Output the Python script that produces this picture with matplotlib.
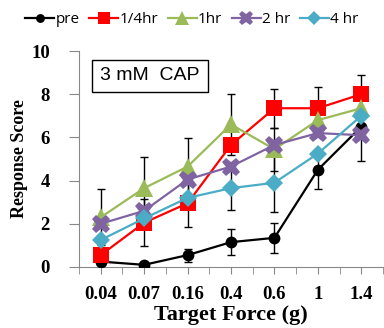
import matplotlib
matplotlib.use("Agg")
import matplotlib.pyplot as plt
import numpy as np
from matplotlib.ticker import FixedLocator

categories = ["0.04", "0.07", "0.16", "0.4", "0.6", "1", "1.4"]
series_names = ["pre", "1/4hr", "1hr", "2 hr", "4 hr"]
pre = [0.25, 0.1, 0.55, 1.15, 1.35, 4.5, 6.5]
q_hr = [0.55, 2.05, 2.95, 5.65, 7.35, 7.35, 8.0]
one_hr = [2.3, 3.65, 4.65, 6.6, 5.45, 6.8, 7.35]
two_hr = [2.0, 2.6, 4.05, 4.65, 5.65, 6.2, 6.1]
four_hr = [1.25, 2.25, 3.2, 3.65, 3.9, 5.25, 7.0]
pre_err = [0.1, 0.1, 0.3, 0.6, 0.7, 0.9, 0.0]
q_err = [0.0, 1.1, 1.1, 0.0, 0.9, 1.0, 0.9]
one_err = [1.3, 1.45, 1.3, 1.4, 1.0, 0.0, 0.0]
two_err = [0.0, 0.0, 0.0, 0.0, 0.0, 0.0, 1.2]
four_err = [0.0, 0.0, 0.0, 1.0, 1.35, 0.0, 0.0]

fig = plt.figure(figsize=(3.84, 3.28), dpi=100)
ax = fig.add_axes([0.2057, 0.186, 0.7917, 0.6585])

x = np.arange(len(categories))
styles = [
    (pre, pre_err, "#000000", "o", 8.5),
    (q_hr, q_err, "#FF0000", "s", 11.5),
    (one_hr, one_err, "#9BBB59", "^", 12.5),
    (two_hr, two_err, "#8064A2", "X", 13.5),
    (four_hr, four_err, "#4BACC6", "D", 9.5),
]
for (vals, errs, c, m, ms), name in zip(styles, series_names):
    vals = np.array(vals); errs = np.array(errs)
    mask = errs > 0
    ax.errorbar(x[mask], vals[mask], yerr=errs[mask], fmt="none", ecolor="black",
                elinewidth=1.0, capsize=3, capthick=1.0, zorder=2)
for (vals, errs, c, m, ms), name in zip(styles, series_names):
    ax.plot(x, vals, color=c, marker=m, markersize=ms, lw=1.6, label=name,
            markeredgewidth=0, zorder=3)

ax.set_xlim(-0.5, 6.5)
ax.set_ylim(0, 10)
ax.set_xticks(x)
ax.set_xticklabels(categories)
ax.xaxis.set_minor_locator(FixedLocator(np.arange(-0.5, 7, 1.0)))
ax.set_yticks([0, 2, 4, 6, 8, 10])
for s in ["top", "right"]:
    ax.spines[s].set_visible(False)
for s in ["left", "bottom"]:
    ax.spines[s].set_color("#888888")
ax.tick_params(axis="both", which="both", color="#888888", direction="out")
ax.tick_params(axis="x", which="both", length=5, pad=9)
ax.tick_params(axis="y", length=7, pad=14)

for lab in ax.get_xticklabels() + ax.get_yticklabels():
    lab.set_fontfamily("Liberation Serif")
    lab.set_fontweight("bold")
    lab.set_fontsize(13.5)

ax.set_xlabel("Target Force (g)", fontfamily="Liberation Serif", fontweight="bold",
              fontsize=16, labelpad=1)
ax.set_ylabel("Response Score", fontfamily="Liberation Serif", fontweight="bold",
              fontsize=13, labelpad=2)

ax.text(0.07, 0.885, "3 mM  CAP", transform=ax.transAxes, fontsize=14,
        fontfamily="Liberation Sans", va="center", ha="left",
        bbox=dict(boxstyle="square,pad=0.4", fc="white", ec="black", lw=1))

fig.legend(loc="center", bbox_to_anchor=(0.5, 0.94), ncol=5, frameon=False,
           prop=dict(family="Open Sans", size=11), handlelength=1.9,
           handletextpad=0.1, columnspacing=0.6, markerscale=0.75)

fig.savefig("out.png", dpi=100)
